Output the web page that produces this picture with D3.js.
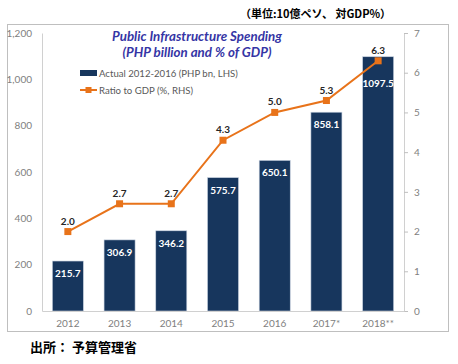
<!DOCTYPE html>
<html><head><meta charset="utf-8">
<script src="https://cdn.jsdelivr.net/npm/d3@7"></script>
<style>body{margin:0;background:#fff}svg{display:block}</style>
</head><body><svg id="c" width="458" height="364"></svg>
<script>
const categories = ["2012","2013","2014","2015","2016","2017*","2018**"];
const spending = [215.7, 306.9, 346.2, 575.7, 650.1, 858.1, 1097.5];
const ratio = [2.0, 2.7, 2.7, 4.3, 5.0, 5.3, 6.3];
const leftTicks = [0, 200, 400, 600, 800, 1000, 1200];
const rightTicks = [0, 1, 2, 3, 4, 5, 6, 7];

const svg = d3.select("#c");
const font = "Lato, 'Liberation Sans', sans-serif";
const L = 42, R = 404, T = 33, B = 311;
const x = d3.scaleBand().domain(categories).range([L, R]).paddingInner(0.4).paddingOuter(0.2);
const yL = d3.scaleLinear().domain([0, 1200]).range([B, T]);
const yR = d3.scaleLinear().domain([0, 7]).range([B, T]);

// frame
svg.append("rect").attr("x", 7.5).attr("y", 24.5).attr("width", 441).attr("height", 307)
  .attr("fill", "none").attr("stroke", "#bfbfbf").attr("stroke-width", 1);

// left axis
const gl = svg.append("g").attr("transform", `translate(${L},0)`)
  .call(d3.axisLeft(yL).tickValues(leftTicks).tickSize(0).tickPadding(10).tickFormat(d3.format(",")));
gl.select(".domain").attr("stroke", "#d0d0d0");
gl.selectAll("text").attr("fill", "#808080").style("font-family", font).style("font-size", "10px");

// right axis
const gr = svg.append("g").attr("transform", `translate(${R},0)`)
  .call(d3.axisRight(yR).tickValues(rightTicks).tickSize(4).tickPadding(6).tickFormat(d3.format("d")));
gr.select(".domain").attr("stroke", "#d0d0d0");
gr.selectAll("line").attr("stroke", "#bfbfbf");
gr.selectAll("text").attr("fill", "#808080").style("font-family", font).style("font-size", "10px");

// bars
svg.selectAll("rect.bar").data(spending).join("rect").attr("class", "bar")
  .attr("x", (d, i) => x(categories[i])).attr("width", x.bandwidth())
  .attr("y", d => yL(d)).attr("height", d => B - yL(d))
  .attr("fill", "#17365D").attr("stroke", "#c8d2e0").attr("stroke-width", 0.6);

// line
const cx = (i) => x(categories[i]) + x.bandwidth() / 2;
svg.append("path").datum(ratio)
  .attr("d", d3.line().x((d, i) => cx(i)).y(d => yR(d)))
  .attr("fill", "none").attr("stroke", "#E8731A").attr("stroke-width", 2);
svg.selectAll("rect.mk").data(ratio).join("rect").attr("class", "mk")
  .attr("x", (d, i) => cx(i) - 3.5).attr("y", d => yR(d) - 3.5).attr("width", 7).attr("height", 7)
  .attr("fill", "#E8731A");
svg.selectAll("text.ml").data(ratio).join("text").attr("class", "ml")
  .attr("x", (d, i) => cx(i)).attr("y", d => yR(d) - 7)
  .attr("text-anchor", "middle").attr("fill", "#262626").style("font-family", font)
  .style("font-size", "10px").style("font-weight", "bold").text(d => d.toFixed(1));

// bar labels (pushed below the marker when the marker sits inside the bar top)
svg.selectAll("text.bl").data(spending).join("text").attr("class", "bl")
  .attr("x", (d, i) => cx(i))
  .attr("y", (d, i) => {
    const top = yL(d), my = yR(ratio[i]);
    return (my > top - 4 && my < top + 20) ? my + 26 : top + 16;
  })
  .attr("text-anchor", "middle").attr("fill", "#fff").style("font-family", font)
  .style("font-size", "10px").style("font-weight", "bold").text(d => d.toFixed(1));

// x axis
const gx = svg.append("g").attr("transform", `translate(0,${B})`)
  .call(d3.axisBottom(x).tickSize(0).tickPadding(9));
gx.select(".domain").attr("stroke", "#d0d0d0");
gx.selectAll("text").attr("fill", "#808080").style("font-family", font).style("font-size", "10px");

// title
const title = svg.append("text").attr("text-anchor", "middle").attr("fill", "#3535A5")
  .style("font-family", font).style("font-size", "13.3px").style("font-weight", "bold").style("font-style", "italic");
title.append("tspan").attr("x", 197).attr("y", 41).text("Public Infrastructure Spending");
title.append("tspan").attr("x", 197).attr("y", 57).text("(PHP billion and % of GDP)");

// legend
svg.append("rect").attr("x", 80).attr("y", 70).attr("width", 17).attr("height", 6).attr("fill", "#17365D");
svg.append("text").attr("x", 99).attr("y", 77).attr("fill", "#595959").style("font-family", font)
  .style("font-size", "9.6px").text("Actual 2012-2016 (PHP bn, LHS)");
svg.append("line").attr("x1", 80).attr("x2", 97).attr("y1", 90).attr("y2", 90).attr("stroke", "#E8731A").attr("stroke-width", 2);
svg.append("rect").attr("x", 85.5).attr("y", 87).attr("width", 6).attr("height", 6).attr("fill", "#E8731A");
svg.append("text").attr("x", 99).attr("y", 94).attr("fill", "#595959").style("font-family", font)
  .style("font-size", "9.6px").text("Ratio to GDP (%, RHS)");

// annotations
svg.append("text").attr("x", 240).attr("y", 18).attr("fill", "#000").style("font-family", "'Noto Sans CJK JP', sans-serif")
  .style("font-size", "11px").style("font-weight", "bold").text("（単位:10億ペソ、 対GDP%）");
svg.append("text").attr("x", 30).attr("y", 352).attr("fill", "#000").style("font-family", "'Noto Sans CJK JP', sans-serif")
  .style("font-size", "13px").style("font-weight", "bold").text("出所： 予算管理省");
</script></body></html>
